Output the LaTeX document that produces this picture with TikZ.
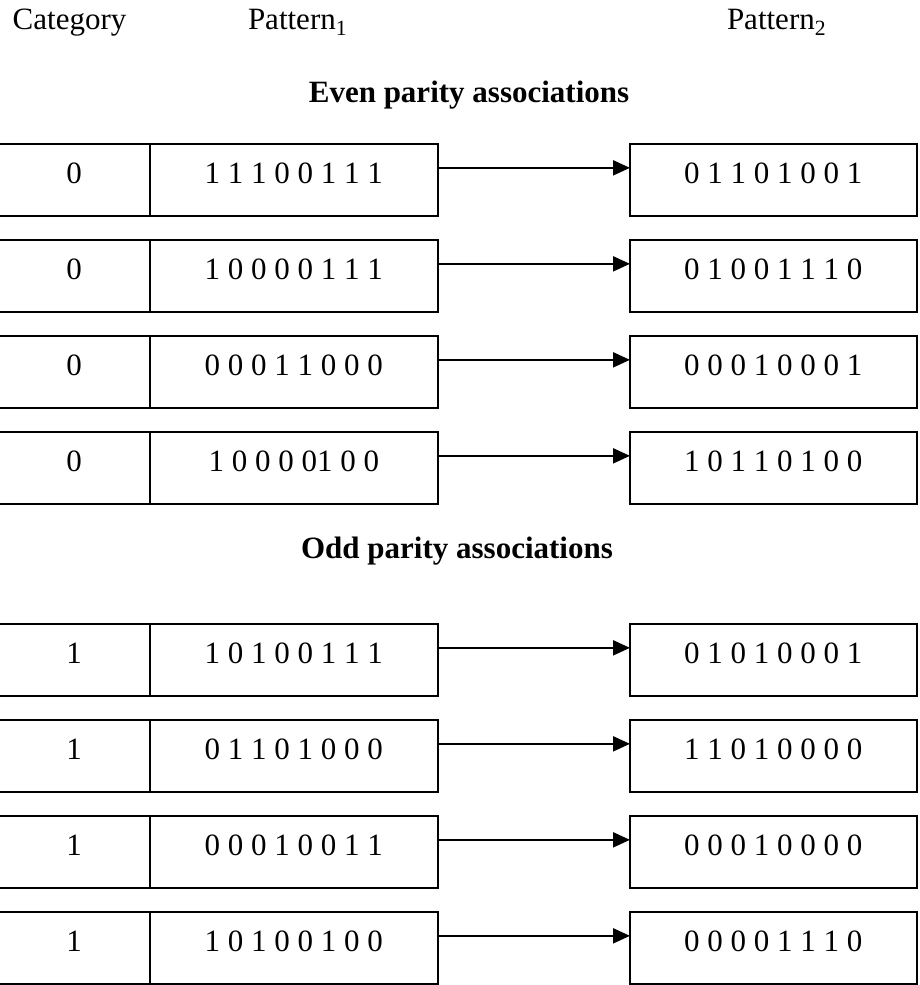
\documentclass[tikz,border=0pt]{standalone}
\usepackage{fontspec}
\setmainfont{Liberation Serif}
\usetikzlibrary{arrows.meta}
\begin{document}
\begin{tikzpicture}[x=1pt,y=-1pt,
  every node/.style={inner sep=0pt, outer sep=0pt, font=\fontsize{31}{37}\selectfont},
  cell/.style={draw, line width=2.3pt, text height=39.3pt, text depth=32.4pt, anchor=north},
  catcell/.style={cell, minimum width=152pt},
  patcell/.style={cell, minimum width=287.7pt},
  outcell/.style={cell, minimum width=286.7pt},
  hdr/.style={anchor=base west},
  title/.style={anchor=base, font=\fontsize{31}{37}\selectfont\bfseries},
  link/.style={line width=2.2pt, -{Triangle[length=17pt,width=15pt]}}
]
\useasboundingbox (0,0) rectangle (919,985);

\node[hdr] (hcat) at (12.7,29.3) {Category};
\node[hdr] (hp1) at (248,29.3) {Pattern\textsubscript{1}};
\node[hdr] (hp2) at (727,29.3) {Pattern\textsubscript{2}};

\node[title] (even) at (469,102) {Even parity associations};
\node[title] (odd) at (457,558) {Odd parity associations};

\foreach \i/\top/\c/\a/\b in {
  1/144/0/1 1 1 0 0 1 1 1/0 1 1 0 1 0 0 1,
  2/240/0/1 0 0 0 0 1 1 1/0 1 0 0 1 1 1 0,
  3/336/0/0 0 0 1 1 0 0 0/0 0 0 1 0 0 0 1,
  4/432/0/1 0 0 0 01 0 0/1 0 1 1 0 1 0 0,
  5/624/1/1 0 1 0 0 1 1 1/0 1 0 1 0 0 0 1,
  6/720/1/0 1 1 0 1 0 0 0/1 1 0 1 0 0 0 0,
  7/816/1/0 0 0 1 0 0 1 1/0 0 0 1 0 0 0 0,
  8/912/1/1 0 1 0 0 1 0 0/0 0 0 0 1 1 1 0}{
  \node[catcell] (c\i) at (74,\top) {\c};
  \node[patcell] (p\i) at (293.85,\top) {\a};
  \node[outcell] (q\i) at (773.35,\top) {\b};
  \draw[link] ([yshift=12pt]p\i.east) -- ([yshift=12pt]q\i.west);
}
\end{tikzpicture}
\end{document}
